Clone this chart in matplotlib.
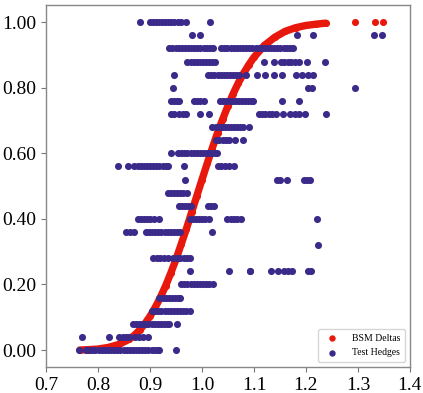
import matplotlib
matplotlib.use('Agg')
import matplotlib.pyplot as plt

plt.rcParams['font.family'] = ['Liberation Serif', 'DejaVu Serif']

# BSM deltas against moneyness
bsm_x = [0.765, 0.780, 0.800, 0.820, 0.840, 0.860, 0.870, 0.880, 0.890, 0.900,
         0.910, 0.920, 0.930, 0.940, 0.950, 0.960, 0.970, 0.980, 0.990, 1.000,
         1.010, 1.020, 1.030, 1.040, 1.050, 1.060, 1.070, 1.080, 1.090, 1.100,
         1.120, 1.140, 1.160, 1.180, 1.200, 1.220, 1.238, 1.294, 1.333, 1.348]
bsm_delta = [0.000, 0.001, 0.003, 0.008, 0.017, 0.033, 0.045, 0.061, 0.080, 0.103,
             0.130, 0.161, 0.196, 0.235, 0.277, 0.323, 0.370, 0.420, 0.470, 0.520,
             0.569, 0.617, 0.663, 0.705, 0.745, 0.782, 0.815, 0.844, 0.870, 0.893,
             0.929, 0.954, 0.972, 0.983, 0.990, 0.994, 0.997, 0.999, 1.000, 1.000]
n_curve = 37  # points that make up the continuous part of the curve

# test hedges, grouped by hedge ratio
h100 = [0.880, 0.899, 0.905, 0.911, 0.917, 0.923, 0.929, 0.935, 0.941, 0.947,
        0.953, 0.960, 0.969, 1.016]
h096 = [0.981, 0.997, 1.182, 1.214, 1.331, 1.347]
h092 = [0.937, 0.943, 0.949, 0.955, 0.961, 0.967, 0.973, 0.979, 0.985, 0.991,
        0.997, 1.003, 1.009, 1.015, 1.021, 1.037, 1.043, 1.049, 1.055, 1.061,
        1.067, 1.073, 1.079, 1.085, 1.091, 1.097, 1.103, 1.109, 1.115, 1.121,
        1.127, 1.133, 1.139, 1.145, 1.151, 1.157, 1.163, 1.169, 1.176]
h088 = [0.972, 0.978, 0.984, 0.990, 0.996, 1.002, 1.008, 1.014, 1.020, 1.025,
        1.120, 1.138, 1.152, 1.158, 1.165, 1.172, 1.179, 1.186, 1.202, 1.237]
h084 = [0.946, 1.012, 1.018, 1.024, 1.030, 1.036, 1.042, 1.048, 1.054, 1.060,
        1.065, 1.072, 1.085, 1.106, 1.122, 1.138, 1.154, 1.181, 1.193, 1.203,
        1.214]
h080 = [0.944, 1.203, 1.212, 1.294]
h076 = [0.940, 0.946, 0.952, 0.956, 0.984, 0.990, 0.997, 1.004, 1.035, 1.041,
        1.047, 1.053, 1.059, 1.065, 1.071, 1.077, 1.083, 1.089, 1.095, 1.099,
        1.154, 1.187]
h072 = [0.940, 0.947, 0.955, 0.963, 0.970, 0.997, 1.014, 1.110, 1.116, 1.122,
        1.128, 1.134, 1.142, 1.156, 1.170, 1.178, 1.187, 1.198, 1.238]
h068 = [1.020, 1.026, 1.032, 1.038, 1.044, 1.050, 1.056, 1.062, 1.068, 1.074,
        1.078, 1.091]
h064 = [1.027, 1.033, 1.040, 1.046, 1.052, 1.064, 1.078]
h060 = [0.940, 0.954, 0.960, 0.966, 0.972, 0.978, 0.984, 0.990, 0.996, 1.002,
        1.008, 1.014, 1.020, 1.025, 1.029]
h056 = [0.838, 0.857, 0.870, 0.876, 0.882, 0.888, 0.894, 0.900, 0.906, 0.912,
        0.918, 0.924, 0.930, 0.935, 0.965, 1.030, 1.037, 1.045, 1.052, 1.061]
h052 = [0.967, 1.144, 1.150, 1.163, 1.196, 1.202, 1.208]
h048 = [0.934, 0.940, 0.946, 0.952, 0.958, 0.964, 0.972]
h044 = [0.955, 0.961, 0.967, 0.973, 0.979, 1.012, 1.018, 1.024]
h040 = [0.876, 0.882, 0.889, 0.895, 0.899, 0.907, 0.918, 0.976, 0.982, 0.988,
        0.994, 1.000, 1.006, 1.014, 1.049, 1.055, 1.062, 1.068, 1.075, 1.221]
h036 = [0.854, 0.862, 0.869, 0.892, 0.898, 0.904, 0.910, 0.916, 0.922, 0.928,
        0.934, 0.940, 0.946, 0.952, 0.958, 1.019]
h032 = [1.224]
h028 = [0.906, 0.913, 0.920, 0.927, 0.934, 0.944, 0.951, 0.958, 0.965, 0.971,
        0.976]
h024 = [0.977, 1.052, 1.092, 1.093, 1.133, 1.147, 1.158, 1.166, 1.174, 1.204,
        1.209]
h020 = [0.960, 0.966, 0.972, 0.978, 0.984, 0.990, 0.996, 1.002, 1.008, 1.014,
        1.021]
h016 = [0.918, 0.924, 0.930, 0.936, 0.942, 0.948, 0.954, 0.958]
h012 = [0.904, 0.910, 0.916, 0.922, 0.928, 0.934, 0.940, 0.946, 0.952, 0.958,
        0.964, 0.970, 0.976]
h008 = [0.867, 0.873, 0.879, 0.885, 0.891, 0.897, 0.903, 0.909, 0.915, 0.921,
        0.927, 0.933, 0.937, 0.952]
h004 = [0.770, 0.821, 0.841, 0.847, 0.853, 0.860, 0.872, 0.879, 0.886, 0.897]
h000 = [0.764, 0.777, 0.783, 0.789, 0.795, 0.801, 0.807, 0.813, 0.819, 0.825,
        0.831, 0.837, 0.843, 0.849, 0.855, 0.861, 0.867, 0.873, 0.879, 0.885,
        0.891, 0.897, 0.903, 0.909, 0.915, 0.918, 0.949]

hedge_levels = [1.00, 0.96, 0.92, 0.88, 0.84, 0.80, 0.76, 0.72, 0.68, 0.64,
                0.60, 0.56, 0.52, 0.48, 0.44, 0.40, 0.36, 0.32, 0.28, 0.24,
                0.20, 0.16, 0.12, 0.08, 0.04, 0.00]
hedge_groups = [h100, h096, h092, h088, h084, h080, h076, h072, h068, h064,
                h060, h056, h052, h048, h044, h040, h036, h032, h028, h024,
                h020, h016, h012, h008, h004, h000]

hedge_x = []
hedge_y = []
for level, xs in zip(hedge_levels, hedge_groups):
    hedge_x += xs
    hedge_y += [level] * len(xs)

red = '#e8180c'
blue = '#3b2a8a'

fig = plt.figure(figsize=(4.23, 3.93), dpi=100)
ax = fig.add_axes([0.109, 0.066, 0.860, 0.921])

ax.plot(bsm_x[:n_curve], bsm_delta[:n_curve], '-', color=red, lw=5.3,
        solid_capstyle='round', zorder=2)
ax.scatter(bsm_x, bsm_delta, s=26, color=red, lw=0, label='BSM Deltas', zorder=2)
ax.scatter(hedge_x, hedge_y, s=26, color=blue, lw=0, label='Test Hedges', zorder=3)

ax.set_xlim(0.7, 1.4)
ax.set_ylim(-0.052, 1.052)
ax.set_xticks([0.7, 0.8, 0.9, 1.0, 1.1, 1.2, 1.3, 1.4])
ax.set_xticklabels(['0.7', '0.8', '0.9', '1.0', '1.1', '1.2', '1.3', '1.4'])
ax.set_yticks([0.0, 0.2, 0.4, 0.6, 0.8, 1.0])
ax.set_yticklabels(['0.00', '0.20', '0.40', '0.60', '0.80', '1.00'])
ax.tick_params(labelsize=14, color='#777777', length=3.5)

for sp in ax.spines.values():
    sp.set_color('#888888')
    sp.set_linewidth(1.0)

leg = ax.legend(loc='lower right', fontsize=7, markerscale=0.9,
                handletextpad=1.0, borderpad=0.5, labelspacing=0.55,
                frameon=True, fancybox=True)
leg.get_frame().set_edgecolor('#cccccc')

fig.savefig('out.png', dpi=100)
